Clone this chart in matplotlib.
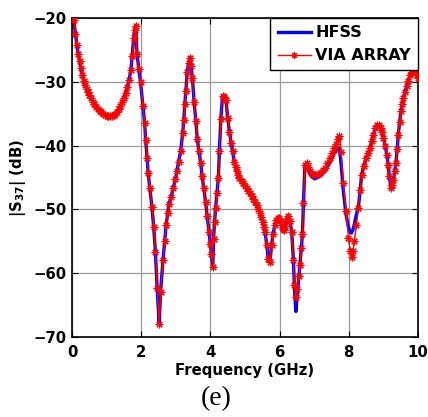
import matplotlib
matplotlib.use("Agg")
import matplotlib.pyplot as plt

freq = [0.05,0.10,0.14,0.18,0.22,0.26,0.30,0.34,0.38,0.42,0.46,0.50,0.55,0.60,0.65,0.70,0.75,0.80,0.85,0.90,
        0.95,1.00,1.05,1.10,1.15,1.20,1.25,1.30,1.35,1.40,1.45,1.50,1.55,1.60,1.65,1.70,1.74,1.78,1.81,1.84,
        1.88,1.93,1.98,2.05,2.10,2.13,2.17,2.20,2.25,2.31,2.36,2.41,2.46,2.52,2.56,2.63,2.68,2.72,2.77,2.80,
        2.87,2.92,2.99,3.03,3.08,3.14,3.20,3.23,3.26,3.29,3.33,3.37,3.41,3.44,3.48,3.53,3.58,3.62,3.67,3.72,
        3.76,3.81,3.86,3.91,3.96,4.00,4.03,4.07,4.09,4.12,4.15,4.19,4.23,4.26,4.30,4.35,4.40,4.45,4.50,4.55,
        4.60,4.64,4.69,4.73,4.76,4.80,4.84,4.90,4.95,5.00,5.05,5.10,5.14,5.19,5.24,5.29,5.34,5.39,5.43,5.47,
        5.51,5.55,5.58,5.63,5.67,5.72,5.77,5.81,5.87,5.91,5.95,5.99,6.03,6.06,6.10,6.13,6.16,6.20,6.25,6.30,
        6.35,6.40,6.43,6.47,6.51,6.55,6.59,6.63,6.66,6.69,6.73,6.78,6.83,6.88,6.95,7.02,7.10,7.17,7.24,7.31,
        7.38,7.46,7.52,7.58,7.63,7.68,7.73,7.78,7.84,7.92,7.99,8.04,8.08,8.12,8.16,8.22,8.28,8.33,8.37,8.43,
        8.50,8.56,8.61,8.66,8.71,8.77,8.82,8.87,8.92,8.96,9.00,9.05,9.10,9.14,9.17,9.22,9.26,9.29,9.33,9.36,
        9.40,9.43,9.47,9.51,9.55,9.58,9.62,9.67,9.72,9.77,9.82,9.86,9.92,9.96,10.0]

via_array = [-20.3,-22.5,-24.2,-25.6,-26.8,-27.9,-28.9,-29.8,-30.5,-31.1,-31.6,-32.1,-32.6,-33.1,-33.5,-33.9,-34.2,-34.5,-34.8,-35.0,
             -35.2,-35.3,-35.4,-35.4,-35.3,-35.2,-35.0,-34.7,-34.3,-33.8,-33.2,-32.5,-31.7,-30.8,-29.7,-28.2,-26.0,-23.2,-21.9,-21.2,
             -25.6,-28.0,-30.0,-33.8,-36.5,-39.2,-41.9,-44.3,-46.7,-49.6,-52.7,-56.6,-62.3,-68.0,-62.9,-57.9,-55.0,-52.4,-50.6,-49.2,
             -48.0,-46.7,-45.3,-44.0,-42.5,-40.9,-38.0,-36.0,-33.5,-31.5,-28.5,-27.0,-26.2,-27.5,-29.4,-33.2,-36.2,-38.9,-40.9,-42.7,
             -44.8,-46.7,-48.8,-51.1,-53.5,-55.5,-57.0,-59.0,-54.7,-52.0,-49.8,-47.5,-45.1,-40.8,-35.9,-32.3,-32.4,-32.8,-35.7,-37.8,
             -39.6,-40.9,-42.5,-43.3,-44.0,-44.6,-45.1,-45.5,-45.9,-46.3,-46.7,-47.1,-47.5,-47.9,-48.3,-48.8,-49.3,-49.9,-50.6,-51.2,
             -51.9,-52.7,-53.5,-55.6,-57.7,-58.2,-55.6,-53.8,-52.4,-51.7,-51.4,-51.4,-51.8,-52.4,-53.0,-53.2,-52.6,-51.6,-51.0,-51.8,
             -53.5,-57.9,-61.9,-63.7,-62.4,-60.5,-58.7,-56.0,-53.8,-49.0,-43.0,-42.7,-43.4,-44.0,-44.4,-44.6,-44.5,-44.3,-43.9,-43.5,
             -42.8,-42.0,-41.2,-40.4,-39.7,-39.0,-38.5,-41.0,-45.9,-50.3,-54.5,-56.5,-57.4,-56.5,-55.0,-52.5,-49.8,-47.0,-44.6,-43.2,
             -42.0,-41.2,-40.4,-39.3,-38.3,-37.3,-36.7,-36.8,-37.2,-37.8,-38.8,-40.0,-41.4,-43.0,-44.8,-46.7,-46.2,-45.4,-44.0,-42.8,
             -40.5,-38.3,-36.3,-34.6,-33.5,-32.5,-31.6,-30.7,-29.8,-29.0,-28.5,-28.3,-28.6,-29.0,-29.4]

hfss = [-20.3,-22.5,-24.2,-25.6,-26.8,-27.9,-28.9,-29.8,-30.5,-31.1,-31.6,-32.1,-32.6,-33.1,-33.5,-33.9,-34.2,-34.5,-34.8,-35.0,
        -35.2,-35.3,-35.4,-35.4,-35.3,-35.2,-35.0,-34.7,-34.3,-33.8,-33.2,-32.5,-31.7,-30.8,-29.7,-28.2,-26.0,-23.2,-21.9,-21.2,
        -25.6,-28.0,-30.0,-33.8,-36.5,-39.2,-41.9,-44.3,-46.7,-49.6,-52.7,-56.6,-62.3,-68.0,-62.9,-57.9,-55.0,-52.4,-50.6,-49.2,
        -48.0,-46.7,-45.3,-44.0,-42.5,-40.9,-38.0,-36.0,-33.5,-31.5,-28.5,-27.0,-26.2,-27.5,-29.4,-33.2,-36.2,-38.9,-40.9,-42.7,
        -44.8,-46.7,-48.8,-51.1,-53.5,-55.5,-57.0,-59.0,-54.7,-52.0,-49.8,-47.5,-45.1,-40.8,-35.9,-32.3,-32.4,-32.8,-35.7,-37.8,
        -39.6,-40.9,-42.5,-43.3,-44.0,-44.6,-45.1,-45.5,-45.9,-46.3,-46.7,-47.1,-47.5,-47.9,-48.3,-48.8,-49.3,-49.9,-50.6,-51.2,
        -51.9,-52.7,-53.5,-55.6,-57.7,-58.2,-55.6,-53.8,-52.4,-51.7,-51.4,-51.4,-51.8,-52.4,-53.0,-53.2,-52.6,-51.6,-51.0,-51.8,
        -53.5,-57.9,-62.5,-66.0,-63.5,-61.0,-58.7,-56.0,-53.8,-49.0,-43.2,-43.0,-43.8,-44.5,-45.0,-45.2,-45.0,-44.8,-44.4,-44.0,
        -43.3,-42.6,-41.9,-41.2,-40.8,-40.5,-40.4,-43.0,-47.0,-50.8,-52.8,-53.6,-53.7,-53.2,-52.3,-50.8,-49.5,-47.0,-44.6,-43.2,
        -42.0,-41.2,-40.4,-39.3,-38.3,-37.3,-36.7,-36.8,-37.2,-37.8,-38.8,-40.0,-41.4,-43.0,-44.8,-46.7,-46.2,-45.4,-44.0,-42.8,
        -40.5,-38.3,-36.3,-34.6,-33.5,-32.5,-31.6,-30.7,-29.8,-29.0,-28.5,-28.3,-28.6,-29.0,-29.4]

x_ticks = [0, 2, 4, 6, 8, 10]
y_ticks = [-70, -60, -50, -40, -30, -20]

plt.rcParams['font.family'] = ['DejaVu Sans']
plt.rcParams['font.weight'] = 'bold'

fig = plt.figure(figsize=(4.28, 4.17), dpi=100)
ax = fig.add_axes([72/428, 1-337/417, 346/428, 319/417])

ax.plot(freq, hfss, color='#0000ff', lw=2.4, label='HFSS', zorder=3)
ax.plot(freq, via_array, color='#ff0000', lw=1.0, marker=(8, 2, 0), ms=5.5, mew=0.8,
        label='VIA ARRAY', zorder=4)

ax.set_xlim(0, 10)
ax.set_ylim(-70, -20)
ax.set_xticks(x_ticks)
ax.set_yticks(y_ticks)
ax.grid(True, color='#999999', lw=0.9)
ax.set_axisbelow(True)
ax.tick_params(direction='in', top=True, right=True, length=4, width=0.8,
               labelsize=10.7, pad=4)
ax.tick_params(axis='x', pad=6)
for lab in ax.get_xticklabels() + ax.get_yticklabels():
    lab.set_fontweight('bold')
for s in ax.spines.values():
    s.set_linewidth(1.2)
    s.set_color('black')

ax.set_xlabel('Frequency (GHz)', fontsize=10.7, fontweight='bold', labelpad=2)
ax.set_ylabel(r'|S$_{\mathbf{37}}$| (dB)', fontsize=10.7, fontweight='bold', labelpad=4)

leg = ax.legend(loc='upper right', frameon=True, fancybox=False,
                borderaxespad=0, handlelength=2.1, handletextpad=0.25,
                borderpad=0.45, labelspacing=0.5, markerscale=0.8,
                prop={'weight': 'bold', 'size': 11.5})
leg.get_frame().set_edgecolor('black')
leg.get_frame().set_linewidth(1.0)
leg.get_frame().set_alpha(1)

fig.text(0.505, 0.043, '(e)', family='Liberation Serif', fontsize=20,
         fontweight='normal', ha='center', va='center')

fig.savefig('out.png', dpi=100)
